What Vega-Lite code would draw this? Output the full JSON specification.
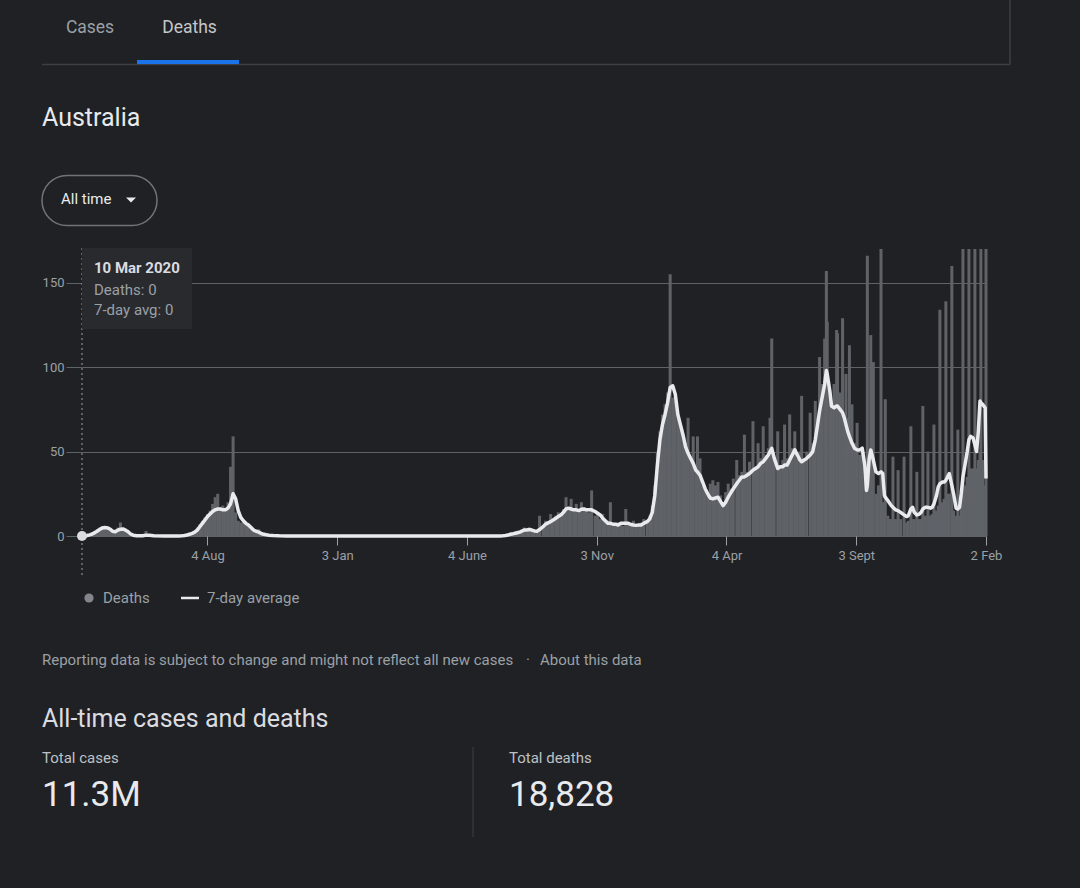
{
"$schema":"https://vega.github.io/schema/vega-lite/v6.json",
"width":1080,"height":888,"autosize":{"type":"none"},"padding":0,
"background":"#202124",
"config":{"view":{"stroke":null},"axis":{"labelFont":"Roboto"},"text":{"font":"Roboto"}},
"data":{"values":[
{"d":"2020-03-10","v":0,"a":0},{"d":"2020-03-13","v":0,"a":0},{"d":"2020-03-16","v":1,"a":0.3},{"d":"2020-03-19","v":1,"a":0.7},{"d":"2020-03-22","v":2,"a":1.2},{"d":"2020-03-25","v":3,"a":2},{"d":"2020-03-28","v":4,"a":3},{"d":"2020-03-31","v":5,"a":4},{"d":"2020-04-03","v":6,"a":4.8},{"d":"2020-04-06","v":5,"a":5},{"d":"2020-04-09","v":4,"a":4.8},{"d":"2020-04-12","v":4,"a":4},{"d":"2020-04-15","v":2,"a":2.8},{"d":"2020-04-18","v":3,"a":2.5},{"d":"2020-04-21","v":5,"a":3.5},{"d":"2020-04-24","v":8,"a":4},{"d":"2020-04-27","v":4,"a":4.2},{"d":"2020-04-30","v":3,"a":3.5},{"d":"2020-05-03","v":2,"a":2.5},{"d":"2020-05-06","v":1,"a":1.2},{"d":"2020-05-09","v":0,"a":0.5},{"d":"2020-05-13","v":0,"a":0.2},{"d":"2020-05-20","v":0,"a":0.1},{"d":"2020-05-24","v":3,"a":0.5},{"d":"2020-05-28","v":0,"a":0.4},{"d":"2020-06-02","v":0,"a":0.1},{"d":"2020-06-15","v":0,"a":0},{"d":"2020-07-01","v":0,"a":0},
{"d":"2020-07-05","v":0,"a":0.1},{"d":"2020-07-08","v":1,"a":0.3},{"d":"2020-07-11","v":1,"a":0.6},{"d":"2020-07-14","v":2,"a":1},{"d":"2020-07-17","v":2,"a":1.6},{"d":"2020-07-20","v":3,"a":2.3},{"d":"2020-07-23","v":5,"a":3.5},{"d":"2020-07-26","v":7,"a":5.5},{"d":"2020-07-29","v":9,"a":7.5},{"d":"2020-08-01","v":11,"a":9.5},{"d":"2020-08-04","v":13,"a":11.5},{"d":"2020-08-07","v":15,"a":13},{"d":"2020-08-10","v":19,"a":14.5},{"d":"2020-08-13","v":23,"a":15.5},{"d":"2020-08-16","v":25,"a":16},{"d":"2020-08-19","v":17,"a":16},{"d":"2020-08-22","v":18,"a":15.5},{"d":"2020-08-25","v":15,"a":15.5},{"d":"2020-08-28","v":20,"a":16.5},{"d":"2020-08-31","v":41,"a":19},{"d":"2020-09-03","v":59,"a":25},{"d":"2020-09-06","v":14,"a":22},{"d":"2020-09-09","v":9,"a":15},{"d":"2020-09-12","v":8,"a":11},{"d":"2020-09-15","v":8,"a":9},{"d":"2020-09-18","v":7,"a":7.5},{"d":"2020-09-21","v":6,"a":6.5},{"d":"2020-09-24","v":5,"a":5},{"d":"2020-09-27","v":4,"a":3.5},{"d":"2020-09-30","v":3,"a":2.8},{"d":"2020-10-03","v":4,"a":2.3},{"d":"2020-10-06","v":2,"a":1.5},{"d":"2020-10-09","v":1,"a":1},{"d":"2020-10-12","v":1,"a":0.7},{"d":"2020-10-15","v":1,"a":0.5},{"d":"2020-10-20","v":0,"a":0.3},{"d":"2020-10-27","v":0,"a":0.1},{"d":"2020-11-05","v":0,"a":0},{"d":"2021-01-01","v":0,"a":0},{"d":"2021-04-01","v":0,"a":0},{"d":"2021-07-01","v":0,"a":0},{"d":"2021-07-13","v":0,"a":0},
{"d":"2021-07-16","v":0,"a":0.1},{"d":"2021-07-19","v":1,"a":0.3},{"d":"2021-07-22","v":1,"a":0.6},{"d":"2021-07-25","v":2,"a":1},{"d":"2021-07-28","v":1,"a":1.3},{"d":"2021-08-01","v":3,"a":1.8},{"d":"2021-08-04","v":2,"a":2.2},{"d":"2021-08-07","v":4,"a":2.8},{"d":"2021-08-10","v":5,"a":3.5},{"d":"2021-08-13","v":3,"a":3.6},{"d":"2021-08-16","v":5,"a":3.8},{"d":"2021-08-19","v":4,"a":3.5},{"d":"2021-08-22","v":3,"a":3},{"d":"2021-08-25","v":2,"a":2.8},{"d":"2021-08-28","v":12,"a":3.8},{"d":"2021-09-01","v":6,"a":5.5},{"d":"2021-09-04","v":9,"a":7},{"d":"2021-09-07","v":8,"a":7.8},{"d":"2021-09-10","v":13,"a":8.5},{"d":"2021-09-13","v":10,"a":9.5},{"d":"2021-09-16","v":12,"a":10.5},{"d":"2021-09-19","v":14,"a":11.5},{"d":"2021-09-22","v":13,"a":12.5},{"d":"2021-09-25","v":16,"a":14},{"d":"2021-09-28","v":23,"a":16},{"d":"2021-10-01","v":17,"a":16.5},{"d":"2021-10-04","v":22,"a":16},{"d":"2021-10-07","v":16,"a":15.5},{"d":"2021-10-10","v":19,"a":15.5},{"d":"2021-10-13","v":14,"a":15},{"d":"2021-10-16","v":20,"a":15.8},{"d":"2021-10-19","v":17,"a":16},{"d":"2021-10-22","v":16,"a":15.5},{"d":"2021-10-25","v":14,"a":15.5},{"d":"2021-10-28","v":27,"a":15.5},{"d":"2021-11-01","v":12,"a":14.5},{"d":"2021-11-04","v":14,"a":13.5},{"d":"2021-11-07","v":10,"a":12.5},{"d":"2021-11-10","v":13,"a":10.5},{"d":"2021-11-13","v":8,"a":9},{"d":"2021-11-16","v":9,"a":7.5},{"d":"2021-11-19","v":20,"a":7.5},{"d":"2021-11-22","v":6,"a":7},{"d":"2021-11-25","v":7,"a":7},{"d":"2021-11-28","v":8,"a":6.5},{"d":"2021-12-01","v":8,"a":7.5},{"d":"2021-12-04","v":6,"a":7.5},{"d":"2021-12-07","v":16,"a":7.5},{"d":"2021-12-10","v":7,"a":7.5},{"d":"2021-12-13","v":6,"a":6.8},{"d":"2021-12-16","v":9,"a":6.5},{"d":"2021-12-19","v":6,"a":6.3},{"d":"2021-12-22","v":7,"a":6.5},{"d":"2021-12-25","v":8,"a":6.5},{"d":"2021-12-28","v":10,"a":7.5},
{"d":"2022-01-01","v":9,"a":8.5},{"d":"2022-01-04","v":12,"a":10},{"d":"2022-01-07","v":18,"a":14},{"d":"2022-01-10","v":30,"a":24},{"d":"2022-01-13","v":50,"a":42},{"d":"2022-01-16","v":62,"a":57},{"d":"2022-01-19","v":72,"a":66},{"d":"2022-01-22","v":78,"a":72},{"d":"2022-01-25","v":85,"a":79},{"d":"2022-01-28","v":155,"a":88},{"d":"2022-01-31","v":82,"a":89},{"d":"2022-02-03","v":80,"a":84},{"d":"2022-02-06","v":70,"a":72},{"d":"2022-02-09","v":66,"a":66},{"d":"2022-02-12","v":59,"a":60},{"d":"2022-02-15","v":55,"a":53},{"d":"2022-02-18","v":70,"a":49},{"d":"2022-02-21","v":45,"a":46},{"d":"2022-02-24","v":59,"a":43},{"d":"2022-02-27","v":38,"a":39},{"d":"2022-03-01","v":59,"a":38},{"d":"2022-03-04","v":46,"a":36},{"d":"2022-03-07","v":30,"a":32},{"d":"2022-03-10","v":28,"a":28},{"d":"2022-03-13","v":24,"a":25},{"d":"2022-03-16","v":31,"a":22.5},{"d":"2022-03-19","v":33,"a":22},{"d":"2022-03-22","v":30,"a":22.5},{"d":"2022-03-25","v":32,"a":23},{"d":"2022-03-28","v":24,"a":20.5},{"d":"2022-03-31","v":18,"a":18},{"d":"2022-04-03","v":26,"a":20},{"d":"2022-04-06","v":31,"a":23},{"d":"2022-04-09","v":28,"a":25.5},{"d":"2022-04-12","v":34,"a":28},{"d":"2022-04-16","v":45,"a":31},{"d":"2022-04-19","v":36,"a":33},{"d":"2022-04-22","v":38,"a":35},{"d":"2022-04-25","v":60,"a":35},{"d":"2022-04-28","v":38,"a":36},{"d":"2022-05-01","v":44,"a":37},{"d":"2022-05-05","v":68,"a":39},{"d":"2022-05-08","v":40,"a":40},{"d":"2022-05-11","v":55,"a":41},{"d":"2022-05-14","v":46,"a":43},{"d":"2022-05-17","v":65,"a":44},{"d":"2022-05-20","v":48,"a":46},{"d":"2022-05-23","v":52,"a":48},{"d":"2022-05-25","v":70,"a":50},{"d":"2022-05-27","v":117,"a":52},{"d":"2022-05-30","v":46,"a":46},{"d":"2022-06-03","v":62,"a":40},{"d":"2022-06-06","v":42,"a":41},{"d":"2022-06-09","v":45,"a":41},{"d":"2022-06-11","v":66,"a":42},{"d":"2022-06-14","v":46,"a":42},{"d":"2022-06-17","v":72,"a":45},{"d":"2022-06-20","v":52,"a":48},{"d":"2022-06-23","v":62,"a":51},{"d":"2022-06-26","v":46,"a":48},{"d":"2022-06-29","v":50,"a":45},{"d":"2022-07-01","v":83,"a":44},{"d":"2022-07-04","v":46,"a":45},{"d":"2022-07-07","v":50,"a":46},{"d":"2022-07-11","v":73,"a":48},{"d":"2022-07-14","v":55,"a":50},{"d":"2022-07-17","v":80,"a":57},{"d":"2022-07-20","v":70,"a":67},{"d":"2022-07-22","v":106,"a":74},{"d":"2022-07-25","v":90,"a":82},{"d":"2022-07-28","v":117,"a":90},{"d":"2022-07-30","v":157,"a":98},{"d":"2022-07-31","v":127,"a":96},{"d":"2022-08-03","v":85,"a":86},{"d":"2022-08-05","v":80,"a":77},{"d":"2022-08-08","v":90,"a":76},{"d":"2022-08-11","v":122,"a":77},{"d":"2022-08-12","v":120,"a":77},{"d":"2022-08-15","v":85,"a":75},{"d":"2022-08-18","v":129,"a":73},{"d":"2022-08-20","v":70,"a":70},{"d":"2022-08-22","v":96,"a":66},{"d":"2022-08-24","v":70,"a":62},{"d":"2022-08-26","v":113,"a":59},{"d":"2022-08-29","v":78,"a":55},{"d":"2022-09-01","v":55,"a":52},{"d":"2022-09-04","v":67,"a":51},{"d":"2022-09-07","v":48,"a":51},{"d":"2022-09-10","v":52,"a":52},{"d":"2022-09-13","v":35,"a":42},{"d":"2022-09-15","v":25,"a":27},{"d":"2022-09-16","v":166,"a":30},{"d":"2022-09-18","v":40,"a":45},{"d":"2022-09-20","v":119,"a":51},{"d":"2022-09-23","v":103,"a":45},{"d":"2022-09-26","v":25,"a":38},{"d":"2022-09-29","v":30,"a":37},{"d":"2022-10-02","v":170,"a":38},{"d":"2022-10-04","v":20,"a":37},{"d":"2022-10-06","v":15,"a":24},{"d":"2022-10-07","v":81,"a":23},{"d":"2022-10-10","v":12,"a":21},{"d":"2022-10-12","v":10,"a":19.5},{"d":"2022-10-14","v":10,"a":18},{"d":"2022-10-16","v":47,"a":17},{"d":"2022-10-19","v":10,"a":15.5},{"d":"2022-10-22","v":39,"a":15},{"d":"2022-10-25","v":10,"a":14},{"d":"2022-10-29","v":47,"a":12.5},{"d":"2022-11-01","v":8,"a":11.5},{"d":"2022-11-03","v":9,"a":12},{"d":"2022-11-06","v":65,"a":16},{"d":"2022-11-08","v":10,"a":17},{"d":"2022-11-10","v":10,"a":14},{"d":"2022-11-13","v":38,"a":12.5},{"d":"2022-11-16","v":10,"a":13},{"d":"2022-11-18","v":10,"a":14},{"d":"2022-11-20","v":77,"a":16},{"d":"2022-11-23","v":12,"a":17},{"d":"2022-11-26","v":50,"a":17},{"d":"2022-11-29","v":12,"a":16.5},{"d":"2022-12-01","v":13,"a":17},{"d":"2022-12-03","v":66,"a":19},{"d":"2022-12-06","v":15,"a":24},{"d":"2022-12-08","v":18,"a":29},{"d":"2022-12-10","v":134,"a":31},{"d":"2022-12-13","v":20,"a":32},{"d":"2022-12-15","v":22,"a":32},{"d":"2022-12-17","v":139,"a":33},{"d":"2022-12-19","v":25,"a":35},{"d":"2022-12-21","v":25,"a":37},{"d":"2022-12-24","v":160,"a":30},{"d":"2022-12-26","v":15,"a":25},{"d":"2022-12-29","v":12,"a":16.5},{"d":"2022-12-31","v":63,"a":16},{"d":"2023-01-02","v":12,"a":17},{"d":"2023-01-04","v":20,"a":25},{"d":"2023-01-06","v":170,"a":35},{"d":"2023-01-08","v":30,"a":41},{"d":"2023-01-11","v":35,"a":50},{"d":"2023-01-13","v":170,"a":57},{"d":"2023-01-15","v":40,"a":59},{"d":"2023-01-18","v":40,"a":58},{"d":"2023-01-20","v":170,"a":54},{"d":"2023-01-22","v":40,"a":50},{"d":"2023-01-24","v":45,"a":62},{"d":"2023-01-26","v":50,"a":80},{"d":"2023-01-27","v":170,"a":79},{"d":"2023-01-29","v":45,"a":78},{"d":"2023-02-01","v":30,"a":76},{"d":"2023-02-02","v":170,"a":34}
]},
"layer":[
{"mark":{"type":"bar","color":"#5f6368","width":3},
 "encoding":{
  "x":{"field":"d","type":"temporal","scale":{"type":"utc","domain":[{"year":2020,"month":3,"date":10,"utc":true},{"year":2023,"month":2,"date":2,"utc":true}],"range":[82,986],"nice":false,"padding":0},
   "axis":{"orient":"bottom","offset":-352,"title":null,"grid":false,"domain":false,"ticks":true,"tickSize":9,"tickColor":"#9aa0a6","tickWidth":1,"labelColor":"#9aa0a6","labelFontSize":13,"labelPadding":4,"labelFlush":false,"labelOverlap":false,
    "values":[{"year":2020,"month":8,"date":4,"utc":true},{"year":2021,"month":1,"date":3,"utc":true},{"year":2021,"month":6,"date":4,"utc":true},{"year":2021,"month":11,"date":3,"utc":true},{"year":2022,"month":4,"date":4,"utc":true},{"year":2022,"month":9,"date":3,"utc":true},{"year":2023,"month":2,"date":2,"utc":true}],
    "labelExpr":"utcFormat(datum.value, '%-d') + ' ' + ['Jan','Feb','Mar','Apr','May','June','July','Aug','Sept','Oct','Nov','Dec'][utcmonth(datum.value)]"}},
  "y":{"field":"v","type":"quantitative","scale":{"domain":[0,170],"range":[536,249],"nice":false,"zero":false},
   "axis":{"orient":"left","offset":-82,"title":null,"values":[0,50,100,150],"grid":true,"gridColor":"#5f6368","gridWidth":1,"domain":false,"ticks":true,"tickSize":16,"tickColor":"#5f6368","labelColor":"#9aa0a6","labelFontSize":13,"labelPadding":2}}}},
{"mark":{"type":"line","color":"#e8eaed","strokeWidth":3.5,"strokeJoin":"round"},
 "encoding":{
  "x":{"field":"d","type":"temporal","scale":{"type":"utc","domain":[{"year":2020,"month":3,"date":10,"utc":true},{"year":2023,"month":2,"date":2,"utc":true}],"range":[82,986],"nice":false,"padding":0}},
  "y":{"field":"a","type":"quantitative","scale":{"domain":[0,170],"range":[536,249],"nice":false,"zero":false}}}},
{"data":{"values":[{}]},"mark":{"type":"rule","color":"#9aa0a6","strokeWidth":1,"strokeDash":[2,3]},
 "encoding":{
  "x":{"datum":{"year":2020,"month":3,"date":10,"utc":true},"type":"temporal","scale":{"type":"utc","domain":[{"year":2020,"month":3,"date":10,"utc":true},{"year":2023,"month":2,"date":2,"utc":true}],"range":[82,986],"nice":false,"padding":0}},
  "y":{"datum":170.59,"type":"quantitative","scale":{"domain":[0,170],"range":[536,249],"nice":false,"zero":false}},
  "y2":{"datum":-23.1}}},
{"data":{"values":[{}]},"mark":{"type":"rect","color":"#292a2e"},
 "encoding":{
  "x":{"datum":{"year":2020,"month":3,"date":10,"utc":true},"type":"temporal","scale":{"type":"utc","domain":[{"year":2020,"month":3,"date":10,"utc":true},{"year":2023,"month":2,"date":2,"utc":true}],"range":[82,986],"nice":false,"padding":0}},
  "x2":{"datum":{"year":2020,"month":7,"date":16,"hours":21,"utc":true}},
  "y":{"datum":170.59,"type":"quantitative","scale":{"domain":[0,170],"range":[536,249],"nice":false,"zero":false}},
  "y2":{"datum":122.61}}},
{"data":{"values":[{}]},"mark":{"type":"text","text":"10 Mar 2020","align":"left","baseline":"middle","fontSize":15,"fontWeight":"bold","color":"#dadce0"},
 "encoding":{
  "x":{"datum":{"year":2020,"month":3,"date":24,"hours":1,"utc":true},"type":"temporal","scale":{"type":"utc","domain":[{"year":2020,"month":3,"date":10,"utc":true},{"year":2023,"month":2,"date":2,"utc":true}],"range":[82,986],"nice":false,"padding":0}},
  "y":{"datum":158.75,"type":"quantitative","scale":{"domain":[0,170],"range":[536,249],"nice":false,"zero":false}}}},
{"data":{"values":[{}]},"mark":{"type":"text","text":"Deaths: 0","align":"left","baseline":"middle","fontSize":15,"color":"#9aa0a6"},
 "encoding":{
  "x":{"datum":{"year":2020,"month":3,"date":24,"hours":1,"utc":true},"type":"temporal","scale":{"type":"utc","domain":[{"year":2020,"month":3,"date":10,"utc":true},{"year":2023,"month":2,"date":2,"utc":true}],"range":[82,986],"nice":false,"padding":0}},
  "y":{"datum":145.72,"type":"quantitative","scale":{"domain":[0,170],"range":[536,249],"nice":false,"zero":false}}}},
{"data":{"values":[{}]},"mark":{"type":"text","text":"7-day avg: 0","align":"left","baseline":"middle","fontSize":15,"color":"#9aa0a6"},
 "encoding":{
  "x":{"datum":{"year":2020,"month":3,"date":24,"hours":1,"utc":true},"type":"temporal","scale":{"type":"utc","domain":[{"year":2020,"month":3,"date":10,"utc":true},{"year":2023,"month":2,"date":2,"utc":true}],"range":[82,986],"nice":false,"padding":0}},
  "y":{"datum":133.87,"type":"quantitative","scale":{"domain":[0,170],"range":[536,249],"nice":false,"zero":false}}}},
{"data":{"values":[{}]},"mark":{"type":"point","filled":true,"size":100,"color":"#dadce0","opacity":1},
 "encoding":{
  "x":{"datum":{"year":2020,"month":3,"date":10,"utc":true},"type":"temporal","scale":{"type":"utc","domain":[{"year":2020,"month":3,"date":10,"utc":true},{"year":2023,"month":2,"date":2,"utc":true}],"range":[82,986],"nice":false,"padding":0}},
  "y":{"datum":0,"type":"quantitative","scale":{"domain":[0,170],"range":[536,249],"nice":false,"zero":false}}}},
{"data":{"values":[{}]},"mark":{"type":"rule","color":"#3c4043","strokeWidth":1.5},
 "encoding":{
  "x":{"datum":{"year":2020,"month":1,"date":23,"hours":3,"utc":true},"type":"temporal","scale":{"type":"utc","domain":[{"year":2020,"month":3,"date":10,"utc":true},{"year":2023,"month":2,"date":2,"utc":true}],"range":[82,986],"nice":false,"padding":0}},
  "x2":{"datum":{"year":2023,"month":3,"date":2,"hours":3,"utc":true}},
  "y":{"datum":279.28,"type":"quantitative","scale":{"domain":[0,170],"range":[536,249],"nice":false,"zero":false}}}},
{"data":{"values":[{}]},"mark":{"type":"rule","color":"#3c4043","strokeWidth":1.5},
 "encoding":{
  "x":{"datum":{"year":2023,"month":3,"date":2,"hours":3,"utc":true},"type":"temporal","scale":{"type":"utc","domain":[{"year":2020,"month":3,"date":10,"utc":true},{"year":2023,"month":2,"date":2,"utc":true}],"range":[82,986],"nice":false,"padding":0}},
  "y":{"datum":317.49,"type":"quantitative","scale":{"domain":[0,170],"range":[536,249],"nice":false,"zero":false}},
  "y2":{"datum":279.28}}},
{"data":{"values":[{}]},"mark":{"type":"rect","color":"#1a73e8"},
 "encoding":{
  "x":{"datum":{"year":2020,"month":5,"date":13,"hours":10,"utc":true},"type":"temporal","scale":{"type":"utc","domain":[{"year":2020,"month":3,"date":10,"utc":true},{"year":2023,"month":2,"date":2,"utc":true}],"range":[82,986],"nice":false,"padding":0}},
  "x2":{"datum":{"year":2020,"month":9,"date":9,"hours":22,"utc":true}},
  "y":{"datum":281.95,"type":"quantitative","scale":{"domain":[0,170],"range":[536,249],"nice":false,"zero":false}},
  "y2":{"datum":279.58}}},
{"data":{"values":[{}]},"mark":{"type":"text","text":"Cases","align":"center","baseline":"middle","fontSize":17.5,"color":"#9aa0a6"},
 "encoding":{
  "x":{"datum":{"year":2020,"month":3,"date":19,"hours":9,"utc":true},"type":"temporal","scale":{"type":"utc","domain":[{"year":2020,"month":3,"date":10,"utc":true},{"year":2023,"month":2,"date":2,"utc":true}],"range":[82,986],"nice":false,"padding":0}},
  "y":{"datum":300.91,"type":"quantitative","scale":{"domain":[0,170],"range":[536,249],"nice":false,"zero":false}}}},
{"data":{"values":[{}]},"mark":{"type":"text","text":"Deaths","align":"center","baseline":"middle","fontSize":17.5,"color":"#c4c7cb"},
 "encoding":{
  "x":{"datum":{"year":2020,"month":7,"date":13,"hours":22,"utc":true},"type":"temporal","scale":{"type":"utc","domain":[{"year":2020,"month":3,"date":10,"utc":true},{"year":2023,"month":2,"date":2,"utc":true}],"range":[82,986],"nice":false,"padding":0}},
  "y":{"datum":300.91,"type":"quantitative","scale":{"domain":[0,170],"range":[536,249],"nice":false,"zero":false}}}},
{"data":{"values":[{}]},"mark":{"type":"text","text":"Australia","align":"left","baseline":"middle","fontSize":25,"color":"#e8eaed"},
 "encoding":{
  "x":{"datum":{"year":2020,"month":1,"date":23,"hours":3,"utc":true},"type":"temporal","scale":{"type":"utc","domain":[{"year":2020,"month":3,"date":10,"utc":true},{"year":2023,"month":2,"date":2,"utc":true}],"range":[82,986],"nice":false,"padding":0}},
  "y":{"datum":247.6,"type":"quantitative","scale":{"domain":[0,170],"range":[536,249],"nice":false,"zero":false}}}},
{"data":{"values":[{}]},"mark":{"type":"rect","fill":"#202124","stroke":"#707479","strokeWidth":1.5,"cornerRadius":25},
 "encoding":{
  "x":{"datum":{"year":2020,"month":1,"date":23,"hours":3,"utc":true},"type":"temporal","scale":{"type":"utc","domain":[{"year":2020,"month":3,"date":10,"utc":true},{"year":2023,"month":2,"date":2,"utc":true}],"range":[82,986],"nice":false,"padding":0}},
  "x2":{"datum":{"year":2020,"month":6,"date":5,"hours":21,"utc":true}},
  "y":{"datum":213.54,"type":"quantitative","scale":{"domain":[0,170],"range":[536,249],"nice":false,"zero":false}},
  "y2":{"datum":183.92}}},
{"data":{"values":[{}]},"mark":{"type":"text","text":"All time","align":"left","baseline":"middle","fontSize":15,"color":"#e8eaed"},
 "encoding":{
  "x":{"datum":{"year":2020,"month":2,"date":14,"hours":10,"utc":true},"type":"temporal","scale":{"type":"utc","domain":[{"year":2020,"month":3,"date":10,"utc":true},{"year":2023,"month":2,"date":2,"utc":true}],"range":[82,986],"nice":false,"padding":0}},
  "y":{"datum":199.61,"type":"quantitative","scale":{"domain":[0,170],"range":[536,249],"nice":false,"zero":false}}}},
{"data":{"values":[{}]},"mark":{"type":"point","shape":"M-1,-0.5L1,-0.5L0,0.5Z","size":100,"filled":true,"color":"#e8eaed","opacity":1},
 "encoding":{
  "x":{"datum":{"year":2020,"month":5,"date":6,"hours":10,"utc":true},"type":"temporal","scale":{"type":"utc","domain":[{"year":2020,"month":3,"date":10,"utc":true},{"year":2023,"month":2,"date":2,"utc":true}],"range":[82,986],"nice":false,"padding":0}},
  "y":{"datum":199.0,"type":"quantitative","scale":{"domain":[0,170],"range":[536,249],"nice":false,"zero":false}}}},
{"data":{"values":[{}]},"mark":{"type":"point","filled":true,"size":85,"color":"#80868b","opacity":1},
 "encoding":{
  "x":{"datum":{"year":2020,"month":3,"date":18,"hours":5,"utc":true},"type":"temporal","scale":{"type":"utc","domain":[{"year":2020,"month":3,"date":10,"utc":true},{"year":2023,"month":2,"date":2,"utc":true}],"range":[82,986],"nice":false,"padding":0}},
  "y":{"datum":-36.72,"type":"quantitative","scale":{"domain":[0,170],"range":[536,249],"nice":false,"zero":false}}}},
{"data":{"values":[{}]},"mark":{"type":"text","text":"Deaths","align":"left","baseline":"middle","fontSize":15,"color":"#9aa0a6"},
 "encoding":{
  "x":{"datum":{"year":2020,"month":4,"date":3,"hours":14,"utc":true},"type":"temporal","scale":{"type":"utc","domain":[{"year":2020,"month":3,"date":10,"utc":true},{"year":2023,"month":2,"date":2,"utc":true}],"range":[82,986],"nice":false,"padding":0}},
  "y":{"datum":-36.72,"type":"quantitative","scale":{"domain":[0,170],"range":[536,249],"nice":false,"zero":false}}}},
{"data":{"values":[{}]},"mark":{"type":"rule","color":"#e8eaed","strokeWidth":2.5},
 "encoding":{
  "x":{"datum":{"year":2020,"month":7,"date":4,"utc":true},"type":"temporal","scale":{"type":"utc","domain":[{"year":2020,"month":3,"date":10,"utc":true},{"year":2023,"month":2,"date":2,"utc":true}],"range":[82,986],"nice":false,"padding":0}},
  "x2":{"datum":{"year":2020,"month":7,"date":25,"hours":1,"utc":true}},
  "y":{"datum":-36.72,"type":"quantitative","scale":{"domain":[0,170],"range":[536,249],"nice":false,"zero":false}}}},
{"data":{"values":[{}]},"mark":{"type":"text","text":"7-day average","align":"left","baseline":"middle","fontSize":15,"color":"#9aa0a6"},
 "encoding":{
  "x":{"datum":{"year":2020,"month":8,"date":3,"hours":10,"utc":true},"type":"temporal","scale":{"type":"utc","domain":[{"year":2020,"month":3,"date":10,"utc":true},{"year":2023,"month":2,"date":2,"utc":true}],"range":[82,986],"nice":false,"padding":0}},
  "y":{"datum":-36.72,"type":"quantitative","scale":{"domain":[0,170],"range":[536,249],"nice":false,"zero":false}}}},
{"data":{"values":[{}]},"mark":{"type":"text","text":"Reporting data is subject to change and might not reflect all new cases","align":"left","baseline":"middle","fontSize":15,"color":"#9aa0a6"},
 "encoding":{
  "x":{"datum":{"year":2020,"month":1,"date":23,"hours":3,"utc":true},"type":"temporal","scale":{"type":"utc","domain":[{"year":2020,"month":3,"date":10,"utc":true},{"year":2023,"month":2,"date":2,"utc":true}],"range":[82,986],"nice":false,"padding":0}},
  "y":{"datum":-73.45,"type":"quantitative","scale":{"domain":[0,170],"range":[536,249],"nice":false,"zero":false}}}},
{"data":{"values":[{}]},"mark":{"type":"text","text":"·","align":"center","baseline":"middle","fontSize":15,"color":"#9aa0a6"},
 "encoding":{
  "x":{"datum":{"year":2021,"month":8,"date":14,"hours":11,"utc":true},"type":"temporal","scale":{"type":"utc","domain":[{"year":2020,"month":3,"date":10,"utc":true},{"year":2023,"month":2,"date":2,"utc":true}],"range":[82,986],"nice":false,"padding":0}},
  "y":{"datum":-73.45,"type":"quantitative","scale":{"domain":[0,170],"range":[536,249],"nice":false,"zero":false}}}},
{"data":{"values":[{}]},"mark":{"type":"text","text":"About this data","align":"left","baseline":"middle","fontSize":15,"color":"#9aa0a6"},
 "encoding":{
  "x":{"datum":{"year":2021,"month":8,"date":28,"hours":12,"utc":true},"type":"temporal","scale":{"type":"utc","domain":[{"year":2020,"month":3,"date":10,"utc":true},{"year":2023,"month":2,"date":2,"utc":true}],"range":[82,986],"nice":false,"padding":0}},
  "y":{"datum":-73.45,"type":"quantitative","scale":{"domain":[0,170],"range":[536,249],"nice":false,"zero":false}}}},
{"data":{"values":[{}]},"mark":{"type":"text","text":"All-time cases and deaths","align":"left","baseline":"middle","fontSize":25,"color":"#dadce0"},
 "encoding":{
  "x":{"datum":{"year":2020,"month":1,"date":23,"hours":3,"utc":true},"type":"temporal","scale":{"type":"utc","domain":[{"year":2020,"month":3,"date":10,"utc":true},{"year":2023,"month":2,"date":2,"utc":true}],"range":[82,986],"nice":false,"padding":0}},
  "y":{"datum":-108.4,"type":"quantitative","scale":{"domain":[0,170],"range":[536,249],"nice":false,"zero":false}}}},
{"data":{"values":[{}]},"mark":{"type":"text","text":"Total cases","align":"left","baseline":"middle","fontSize":15,"color":"#bdc1c6"},
 "encoding":{
  "x":{"datum":{"year":2020,"month":1,"date":23,"hours":3,"utc":true},"type":"temporal","scale":{"type":"utc","domain":[{"year":2020,"month":3,"date":10,"utc":true},{"year":2023,"month":2,"date":2,"utc":true}],"range":[82,986],"nice":false,"padding":0}},
  "y":{"datum":-131.5,"type":"quantitative","scale":{"domain":[0,170],"range":[536,249],"nice":false,"zero":false}}}},
{"data":{"values":[{}]},"mark":{"type":"text","text":"11.3M","align":"left","baseline":"middle","fontSize":35,"color":"#e8eaed"},
 "encoding":{
  "x":{"datum":{"year":2020,"month":1,"date":23,"hours":3,"utc":true},"type":"temporal","scale":{"type":"utc","domain":[{"year":2020,"month":3,"date":10,"utc":true},{"year":2023,"month":2,"date":2,"utc":true}],"range":[82,986],"nice":false,"padding":0}},
  "y":{"datum":-153.41,"type":"quantitative","scale":{"domain":[0,170],"range":[536,249],"nice":false,"zero":false}}}},
{"data":{"values":[{}]},"mark":{"type":"rule","color":"#3c4043","strokeWidth":1},
 "encoding":{
  "x":{"datum":{"year":2021,"month":6,"date":11,"hours":1,"utc":true},"type":"temporal","scale":{"type":"utc","domain":[{"year":2020,"month":3,"date":10,"utc":true},{"year":2023,"month":2,"date":2,"utc":true}],"range":[82,986],"nice":false,"padding":0}},
  "y":{"datum":-124.98,"type":"quantitative","scale":{"domain":[0,170],"range":[536,249],"nice":false,"zero":false}},
  "y2":{"datum":-178.29}}},
{"data":{"values":[{}]},"mark":{"type":"text","text":"Total deaths","align":"left","baseline":"middle","fontSize":15,"color":"#bdc1c6"},
 "encoding":{
  "x":{"datum":{"year":2021,"month":7,"date":23,"hours":5,"utc":true},"type":"temporal","scale":{"type":"utc","domain":[{"year":2020,"month":3,"date":10,"utc":true},{"year":2023,"month":2,"date":2,"utc":true}],"range":[82,986],"nice":false,"padding":0}},
  "y":{"datum":-131.5,"type":"quantitative","scale":{"domain":[0,170],"range":[536,249],"nice":false,"zero":false}}}},
{"data":{"values":[{}]},"mark":{"type":"text","text":"18,828","align":"left","baseline":"middle","fontSize":35,"color":"#e8eaed"},
 "encoding":{
  "x":{"datum":{"year":2021,"month":7,"date":23,"hours":5,"utc":true},"type":"temporal","scale":{"type":"utc","domain":[{"year":2020,"month":3,"date":10,"utc":true},{"year":2023,"month":2,"date":2,"utc":true}],"range":[82,986],"nice":false,"padding":0}},
  "y":{"datum":-153.41,"type":"quantitative","scale":{"domain":[0,170],"range":[536,249],"nice":false,"zero":false}}}}
]
}
